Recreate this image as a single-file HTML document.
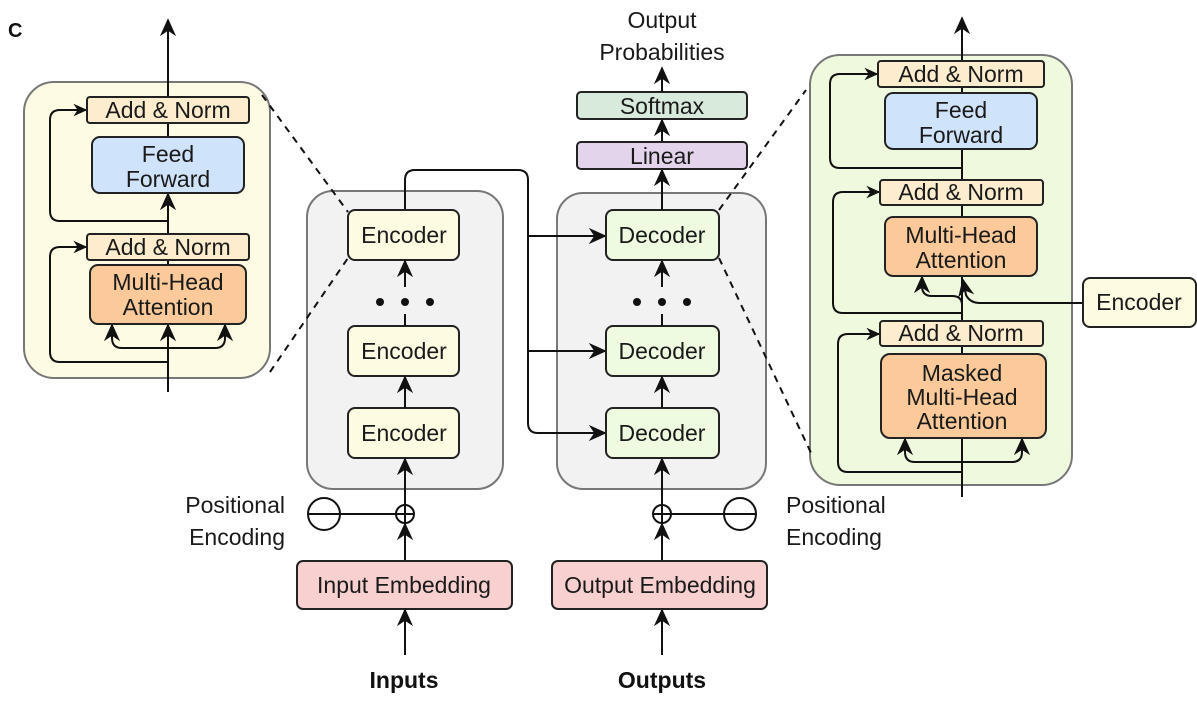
<!DOCTYPE html>
<html><head><meta charset="utf-8"><style>
html,body{margin:0;padding:0;background:#fff;}
svg{display:block;font-family:"Liberation Sans",Arial,sans-serif;}
.t{font-size:23px;fill:#1a1a1a;text-anchor:middle;}
.b{stroke:#222;stroke-width:2;}
.l{stroke:#111;stroke-width:2;fill:none;}
.d{stroke:#111;stroke-width:2;fill:none;stroke-dasharray:7,6;}
</style></head><body>
<svg width="1197" height="704" viewBox="0 0 1197 704" xmlns="http://www.w3.org/2000/svg">
<defs>
<marker id="a" viewBox="0 0 10 10" refX="9" refY="5" markerWidth="14" markerHeight="14" orient="auto" markerUnits="userSpaceOnUse">
<path d="M0,0.5 L10,5 L0,9.5 L3,5 z" fill="#111"/></marker>
<marker id="A" viewBox="0 0 10 10" refX="9" refY="5" markerWidth="18" markerHeight="18" orient="auto" markerUnits="userSpaceOnUse">
<path d="M0,0.5 L10,5 L0,9.5 L3,5 z" fill="#111"/></marker>
</defs>
<text x="8" y="37" style="font-size:20px;font-weight:bold;fill:#111">C</text>

<!-- panels -->
<rect x="24" y="82" width="246" height="296" rx="30" fill="#fefbe4" stroke="#777" stroke-width="2"/>
<rect x="307" y="191" width="196" height="298" rx="26" fill="#f2f2f2" stroke="#777" stroke-width="2"/>
<rect x="557" y="193" width="209" height="296" rx="26" fill="#f2f2f2" stroke="#777" stroke-width="2"/>
<rect x="810" y="55" width="262" height="430" rx="30" fill="#eff9de" stroke="#777" stroke-width="2"/>

<!-- dashed lines -->
<line class="d" x1="262" y1="95" x2="348" y2="212"/>
<line class="d" x1="270" y1="372" x2="348" y2="258"/>
<line class="d" x1="719" y1="210" x2="806" y2="90"/>
<line class="d" x1="719" y1="258" x2="812" y2="455"/>

<!-- left panel -->
<path class="l" d="M168,392 V20" marker-end="url(#A)"/>
<path class="l" d="M168,362 H60 Q50,362 50,352 V257 Q50,247 60,247 H86" marker-end="url(#a)"/>
<path class="l" d="M168,221 H60 Q50,221 50,211 V120 Q50,110 60,110 H86" marker-end="url(#a)"/>
<path class="l" d="M168,348 H122 Q112,348 112,338 V325" marker-end="url(#A)"/>
<path class="l" d="M168,348 H215 Q225,348 225,338 V325" marker-end="url(#A)"/>
<path class="l" d="M168,340 V325" marker-end="url(#A)"/>
<path class="l" d="M168,221 V194" marker-end="url(#A)"/>
<rect x="87" y="97" width="162" height="26" rx="3" fill="#fdeccd" class="b"/>
<text class="t" x="168" y="118">Add &amp; Norm</text>
<rect x="92" y="137" width="152" height="56" rx="8" fill="#cfe3fb" class="b"/>
<text class="t" x="168" y="162">Feed</text><text class="t" x="168" y="187">Forward</text>
<rect x="87" y="234" width="162" height="26" rx="3" fill="#fdeccd" class="b"/>
<text class="t" x="168" y="255">Add &amp; Norm</text>
<rect x="90" y="265" width="156" height="59" rx="8" fill="#fbc99a" class="b"/>
<text class="t" x="168" y="290">Multi-Head</text><text class="t" x="168" y="315">Attention</text>

<!-- encoder stack -->
<path class="l" d="M405,210 V180 Q405,170 415,170 H518 Q528,170 528,180 V423 Q528,433 538,433 H605" marker-end="url(#A)"/>
<path class="l" d="M528,236 H605" marker-end="url(#A)"/>
<path class="l" d="M528,351 H605" marker-end="url(#A)"/>
<rect x="348" y="210" width="111" height="50" rx="7" fill="#fefbe3" class="b"/>
<text class="t" x="404" y="243">Encoder</text>
<rect x="348" y="326" width="111" height="50" rx="7" fill="#fefbe3" class="b"/>
<text class="t" x="404" y="359">Encoder</text>
<rect x="348" y="408" width="111" height="50" rx="7" fill="#fefbe3" class="b"/>
<text class="t" x="404" y="441">Encoder</text>
<path class="l" d="M405,408 V377" marker-end="url(#A)"/>
<path class="l" d="M405,326 V314"/>
<path class="l" d="M405,287 V261" marker-end="url(#A)"/>
<circle cx="380" cy="302" r="4" fill="#111"/><circle cx="405" cy="302" r="4" fill="#111"/><circle cx="430" cy="302" r="4" fill="#111"/>
<path class="l" d="M405,561 V524" marker-end="url(#A)"/>
<path class="l" d="M405,505 V459" marker-end="url(#A)"/>
<circle cx="405" cy="514" r="9" class="l"/>
<line class="l" x1="396" y1="514" x2="414" y2="514"/>
<line class="l" x1="405" y1="505" x2="405" y2="523"/>
<circle cx="324" cy="514" r="16" class="l"/>
<line class="l" x1="308" y1="514" x2="396" y2="514"/>
<text x="285" y="513" style="font-size:23px;fill:#1a1a1a;text-anchor:end">Positional</text>
<text x="285" y="545" style="font-size:23px;fill:#1a1a1a;text-anchor:end">Encoding</text>
<rect x="297" y="561" width="215" height="48" rx="6" fill="#f9d0d0" class="b"/>
<text class="t" x="404" y="593">Input Embedding</text>
<path class="l" d="M405,655 V610" marker-end="url(#A)"/>
<text x="404" y="688" style="font-size:23px;font-weight:bold;fill:#111;text-anchor:middle">Inputs</text>

<!-- decoder stack -->
<rect x="606" y="210" width="113" height="50" rx="7" fill="#eefbe0" class="b"/>
<text class="t" x="662" y="243">Decoder</text>
<rect x="606" y="326" width="113" height="50" rx="7" fill="#eefbe0" class="b"/>
<text class="t" x="662" y="359">Decoder</text>
<rect x="606" y="408" width="113" height="50" rx="7" fill="#eefbe0" class="b"/>
<text class="t" x="662" y="441">Decoder</text>
<path class="l" d="M662,408 V377" marker-end="url(#A)"/>
<path class="l" d="M662,326 V314"/>
<path class="l" d="M662,287 V261" marker-end="url(#A)"/>
<circle cx="637" cy="302" r="4" fill="#111"/><circle cx="662" cy="302" r="4" fill="#111"/><circle cx="687" cy="302" r="4" fill="#111"/>
<path class="l" d="M662,561 V524" marker-end="url(#A)"/>
<path class="l" d="M662,505 V459" marker-end="url(#A)"/>
<circle cx="662" cy="514" r="9" class="l"/>
<line class="l" x1="653" y1="514" x2="671" y2="514"/>
<line class="l" x1="662" y1="505" x2="662" y2="523"/>
<circle cx="740" cy="514" r="16" class="l"/>
<line class="l" x1="671" y1="514" x2="756" y2="514"/>
<text x="786" y="513" style="font-size:23px;fill:#1a1a1a">Positional</text>
<text x="786" y="545" style="font-size:23px;fill:#1a1a1a">Encoding</text>
<rect x="552" y="561" width="215" height="48" rx="6" fill="#f9d0d0" class="b"/>
<text class="t" x="660" y="593">Output Embedding</text>
<path class="l" d="M662,655 V610" marker-end="url(#A)"/>
<text x="662" y="688" style="font-size:23px;font-weight:bold;fill:#111;text-anchor:middle">Outputs</text>

<path class="l" d="M662,210 V170" marker-end="url(#A)"/>
<rect x="577" y="142" width="170" height="27" rx="4" fill="#e3d4ec" class="b"/>
<text class="t" x="662" y="164">Linear</text>
<path class="l" d="M662,142 V120" marker-end="url(#A)"/>
<rect x="577" y="92" width="170" height="27" rx="4" fill="#d7eadb" class="b"/>
<text class="t" x="662" y="114">Softmax</text>
<path class="l" d="M662,92 V68" marker-end="url(#A)"/>
<text class="t" x="662" y="28">Output</text>
<text class="t" x="662" y="60">Probabilities</text>

<!-- right panel -->
<path class="l" d="M962,497 V18" marker-end="url(#A)"/>
<path class="l" d="M962,472 H848 Q838,472 838,462 V344 Q838,334 848,334 H879" marker-end="url(#a)"/>
<path class="l" d="M962,462 H915 Q905,462 905,452 V439" marker-end="url(#A)"/>
<path class="l" d="M962,462 H1012 Q1022,462 1022,452 V439" marker-end="url(#A)"/>
<path class="l" d="M962,313 H843 Q833,313 833,303 V202 Q833,192 843,192 H879" marker-end="url(#a)"/>
<path class="l" d="M962,168 H840 Q830,168 830,158 V84 Q830,74 840,74 H877" marker-end="url(#a)"/>
<path class="l" d="M962,305 Q962,296 952,296 H932 Q922,296 922,286 V277" marker-end="url(#A)"/>
<path class="l" d="M1083,303 H980 Q970,303 966,295 L963,280" marker-end="url(#A)"/>
<rect x="878" y="61" width="166" height="26" rx="3" fill="#fdeccd" class="b"/>
<text class="t" x="961" y="82">Add &amp; Norm</text>
<rect x="885" y="93" width="152" height="56" rx="8" fill="#cfe3fb" class="b"/>
<text class="t" x="961" y="118">Feed</text><text class="t" x="961" y="143">Forward</text>
<rect x="880" y="180" width="163" height="25" rx="3" fill="#fdeccd" class="b"/>
<text class="t" x="961" y="200">Add &amp; Norm</text>
<rect x="885" y="217" width="152" height="59" rx="8" fill="#fbc99a" class="b"/>
<text class="t" x="961" y="243">Multi-Head</text><text class="t" x="961" y="268">Attention</text>
<rect x="880" y="321" width="163" height="25" rx="3" fill="#fdeccd" class="b"/>
<text class="t" x="961" y="341">Add &amp; Norm</text>
<rect x="881" y="354" width="165" height="84" rx="9" fill="#fbc99a" class="b"/>
<text class="t" x="962" y="381">Masked</text><text class="t" x="962" y="405">Multi-Head</text><text class="t" x="962" y="429">Attention</text>
<rect x="1083" y="278" width="113" height="49" rx="7" fill="#fefbe3" class="b"/>
<text class="t" x="1139" y="310">Encoder</text>
</svg>
</body></html>
